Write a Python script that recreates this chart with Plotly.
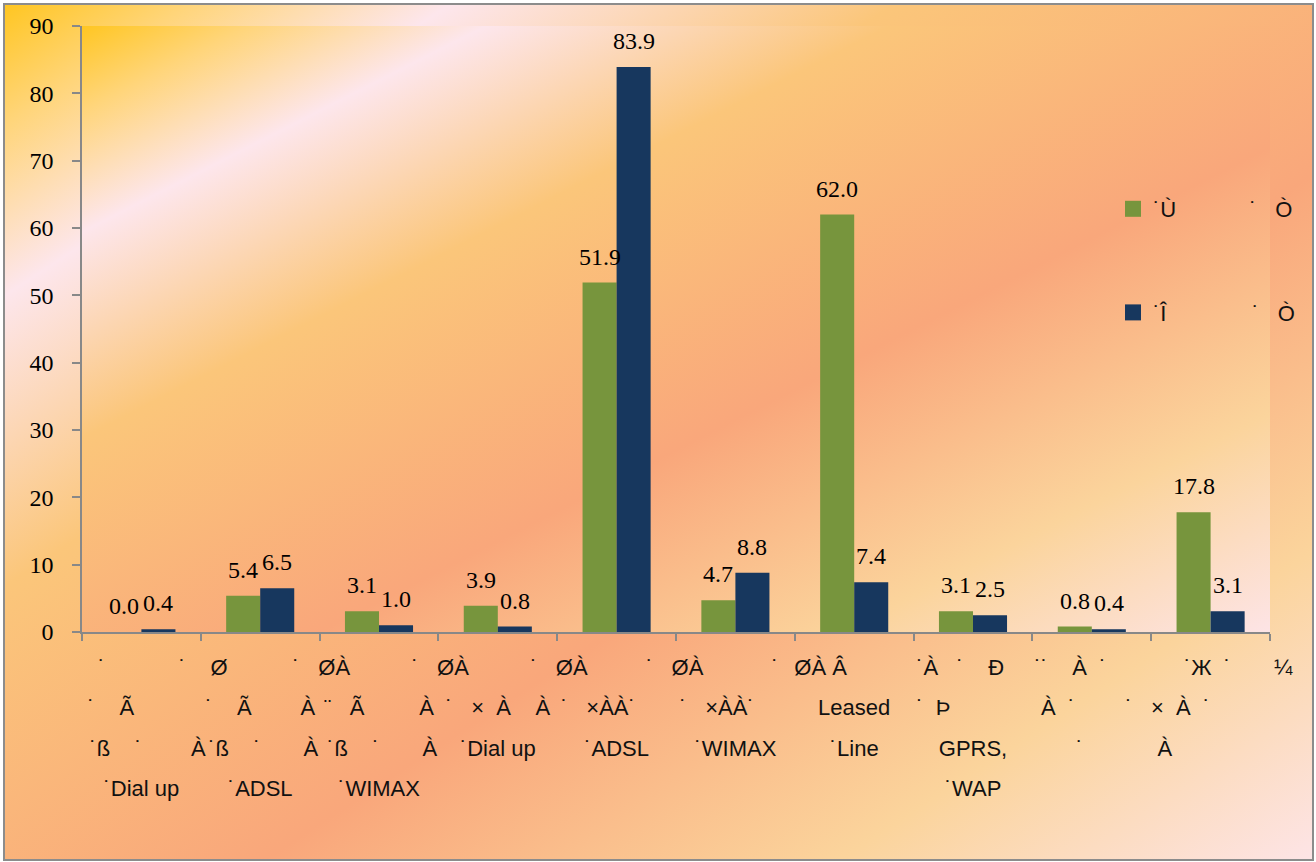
import base64
import plotly.graph_objects as go

# ---------------- data ----------------
NB = "\u00a0"
def nb(n):
    return NB * n

category_lines = [
    [nb(7) + "˙" + nb(12) + "˙" + nb(4) + "Ø", "˙" + nb(4) + "Ã" + nb(10), nb(2) + "˙ß" + nb(4) + "˙" + nb(8) + "À", "˙Dial up"],
    [nb(20) + "˙" + nb(3) + "ØÀ", "˙" + nb(4) + "Ã" + nb(8) + "À", nb(1) + "˙ß" + nb(4) + "˙" + nb(7) + "À", "˙ADSL"],
    [nb(20) + "˙" + nb(3) + "ØÀ", "¨" + nb(3) + "Ã" + nb(9) + "À", nb(1) + "˙ß" + nb(4) + "˙" + nb(7) + "À", "˙WIMAX"],
    [nb(20) + "˙" + nb(3) + "ØÀ", "˙" + nb(3) + "×" + nb(2) + "À" + nb(4) + "À", "˙Dial up"],
    [nb(20) + "˙" + nb(3) + "ØÀ" + nb(1), "˙" + nb(3) + "×ÀÀ˙" + nb(6), "˙ADSL"],
    [nb(13) + "˙", "˙" + nb(3) + "×ÀÀ˙" + nb(6), "˙WIMAX"],
    ["ØÀ" + nb(1) + "Â" + nb(11), "Leased", "˙Line"],
    [nb(3) + "˙À" + nb(3) + "˙" + nb(4) + "Đ" + nb(6) + "˙", "˙" + nb(2) + "Þ" + nb(13), "GPRS,", "˙WAP"],
    ["˙" + nb(5) + "À" + nb(2) + "˙" + nb(7), "À" + nb(2) + "˙" + nb(11), "˙" + nb(4)],
    [nb(9) + "˙Ж" + nb(2) + "˙" + nb(7) + "¼", "˙" + nb(3) + "×" + nb(2) + "À" + nb(2) + "˙" + nb(14), "À" + nb(15)],
]

series_names = [
    "˙Ù" + nb(12) + "˙" + nb(3) + "Ò",
    "˙Î" + nb(14) + "˙" + nb(3) + "Ò",
]
series_green = [0.0, 5.4, 3.1, 3.9, 51.9, 4.7, 62.0, 3.1, 0.8, 17.8]
series_navy = [0.4, 6.5, 1.0, 0.8, 83.9, 8.8, 7.4, 2.5, 0.4, 3.1]
series_colors = ["#77953D", "#17375E"]
y_ticks = [0, 10, 20, 30, 40, 50, 60, 70, 80, 90]

# ---------------- layout constants ----------------
W, H = 1316, 862
PL, PT, PR, PB = 82, 26, 1270, 632
pw, ph = PR - PL, PB - PT
BARGAP = 0.427

def px_x(x):
    return (x - PL) / pw

def px_y(y):
    return (PB - y) / ph

stops = [(0.0, "#FFC622"), (0.07, "#FFD57A"), (0.17, "#FDE6EC"), (0.34, "#FBC67A"),
         (0.60, "#F9A77B"), (0.82, "#FBD49C"), (1.0, "#FDE4E6")]

def grad_svg(w, h):
    s = "".join(f'<stop offset="{o}" stop-color="{c}"/>' for o, c in stops)
    svg = (f'<svg xmlns="http://www.w3.org/2000/svg" width="{w}" height="{h}" '
           f'viewBox="0 0 {w} {h}" preserveAspectRatio="none"><defs>'
           f'<linearGradient id="g" x1="0" y1="0" x2="1" y2="1">{s}</linearGradient></defs>'
           f'<rect width="{w}" height="{h}" fill="url(#g)"/></svg>')
    return "data:image/svg+xml;base64," + base64.b64encode(svg.encode("utf-8")).decode()

categories = ["<br>".join(f"<span style='font-size:22px'>{l}</span>" for l in lines)
              for lines in category_lines]

fig = go.Figure()
all_series = [series_green, series_navy]
for i, vals in enumerate(all_series):
    fig.add_trace(go.Bar(x=categories, y=vals, marker=dict(color=series_colors[i], line=dict(width=0)),
                         showlegend=False, hoverinfo="skip"))
    fig.add_trace(go.Scatter(x=[None], y=[None], mode="markers", name=series_names[i],
                             legendgroup=f"g{i}",
                             marker=dict(symbol="square", size=20, color=series_colors[i])))

bar_px = pw / len(categories) * (1 - BARGAP) / 2
annotations = []
for i, vals in enumerate(all_series):
    for cat, v in zip(categories, vals):
        annotations.append(dict(x=cat, y=v, xref="x", yref="y", text=f"{v:.1f}",
                                showarrow=False, xshift=(i - 0.5) * bar_px, yshift=11,
                                yanchor="bottom", xanchor="center",
                                font=dict(family="Liberation Serif", size=24, color="#000")))

fig.update_layout(
    template="none",
    width=W, height=H,
    margin=dict(l=PL, r=W - PR, t=PT, b=H - PB, pad=0),
    paper_bgcolor="white",
    plot_bgcolor="rgba(0,0,0,0)",
    barmode="group", bargap=BARGAP, bargroupgap=0,
    annotations=annotations,
    images=[
        dict(source=grad_svg(1307, 854), xref="paper", yref="paper",
             x=px_x(5), y=px_y(5), sizex=(1312 - 5) / pw, sizey=(859 - 5) / ph,
             xanchor="left", yanchor="top", sizing="stretch", layer="below"),
        dict(source=grad_svg(pw, ph), xref="paper", yref="paper",
             x=0, y=1, sizex=1, sizey=1,
             xanchor="left", yanchor="top", sizing="stretch", layer="below"),
    ],
    shapes=[dict(type="rect", xref="paper", yref="paper",
                 x0=px_x(4), x1=px_x(1313), y0=px_y(860), y1=px_y(4),
                 line=dict(color="#8C8C8C", width=2))],
    legend=dict(x=px_x(1113), y=px_y(188), xanchor="left", yanchor="top",
                bgcolor="rgba(0,0,0,0)", tracegroupgap=72,
                font=dict(family="Liberation Sans", size=22, color="#111")),
    xaxis=dict(type="category", categoryorder="array", categoryarray=categories,
               showline=True, linecolor="#888888", linewidth=1.5,
               ticks="outside", tickson="boundaries", ticklen=7, tickcolor="#888888", tickwidth=1.5,
               tickangle=0, showgrid=False, zeroline=False, ticklabelstandoff=4,
               tickfont=dict(family="Liberation Sans", size=31, color="#111")),
    yaxis=dict(range=[0, 90], tickmode="array", tickvals=y_ticks,
               showline=True, linecolor="#888888", linewidth=1.5,
               ticks="outside", ticklen=8, tickcolor="#888888", tickwidth=1.5,
               showgrid=False, zeroline=False, ticklabelstandoff=14,
               tickfont=dict(family="Liberation Serif", size=24, color="#000")),
)

fig.write_html("out.html", config={"displayModeBar": False},
               post_script="document.body.style.margin='0';")
